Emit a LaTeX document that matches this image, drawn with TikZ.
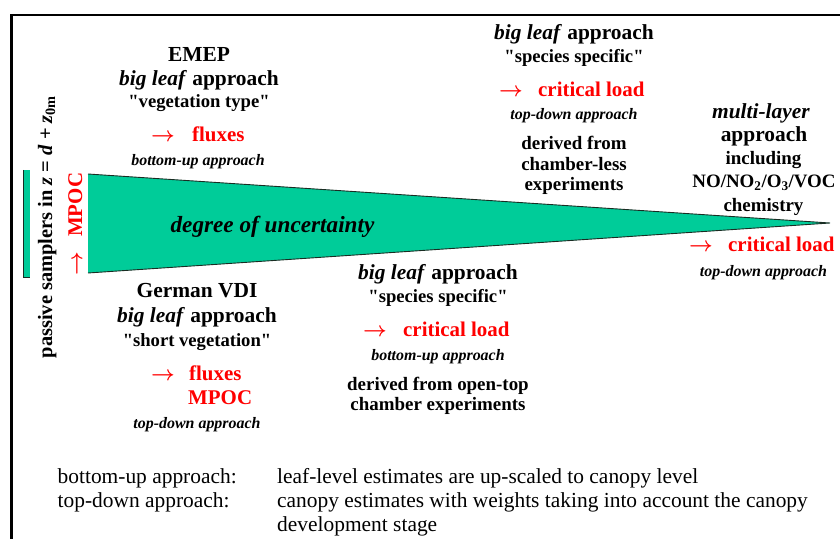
\documentclass[tikz,border=0pt]{standalone}
\usepackage{fontspec}
\setmainfont{Liberation Serif}
\definecolor{wedgegreen}{RGB}{0,204,153}
\definecolor{wedgeedge}{RGB}{25,45,35}
\newcommand{\resarrow}{{\boldmath$\rightarrow$}}

\begin{document}
\begin{tikzpicture}[x=1bp,y=-1bp,
  every node/.style={inner sep=0pt, anchor=base},
  hdtext/.style={font=\fontsize{21.5}{24}\selectfont\bfseries},
  qtext/.style={font=\fontsize{18.7}{21}\selectfont\bfseries},
  notetext/.style={font=\fontsize{16}{18}\selectfont\bfseries\itshape},
  redtext/.style={text=red, font=\fontsize{21}{24}\selectfont\bfseries, anchor=base west},
  redarrow/.style={text=red, font=\fontsize{21}{24}\selectfont},
  dettext/.style={font=\fontsize{19}{22}\selectfont\bfseries},
  legtext/.style={font=\fontsize{21.5}{24}\selectfont, anchor=base west},
]
\useasboundingbox (0,0) rectangle (840,539);

% outer frame (top and left edges)
\coordinate (frameBL) at (11.5,539);
\coordinate (frameTL) at (11.5,15);
\coordinate (frameTR) at (840,15);
\draw[line width=2.5bp] (frameBL) -- (frameTL) -- (frameTR);

% uncertainty wedge
\coordinate (wedgeTL) at (88,174);
\coordinate (wedgeTip) at (830,223);
\coordinate (wedgeBL) at (88,273);
\fill[wedgegreen] (wedgeTL) -- (wedgeTip) -- (wedgeBL) -- cycle;
\draw[wedgeedge, line width=0.9bp] (wedgeTL) -- (wedgeTip) -- (wedgeBL);
\node[font=\fontsize{23.3}{26}\selectfont\bfseries\itshape] (uncert) at (272.5,233) {degree of uncertainty};

% passive sampler bar
\coordinate (barTL) at (23.5,170);
\coordinate (barBR) at (30,277);
\fill[wedgegreen] (barTL) rectangle (barBR);
\draw[wedgeedge, line width=0.9bp] (barTL) -- (barTL |- barBR) -- (barBR);

% rotated labels at the left
\node[rotate=90, font=\fontsize{20.5}{24}\selectfont\bfseries] (samplers) at (52,227)
  {passive samplers in \textit{z} = \textit{d} + \textit{z}\textsubscript{0m}};
\node[rotate=90, text=red, font=\fontsize{21}{24}\selectfont\bfseries] (mpocv) at (82,224)
  {\resarrow\hspace{0.7em}MPOC};

% EMEP
\node[hdtext] (emep1) at (199,62) {EMEP};
\node[hdtext] (emep2) at (199,86) {\textit{big leaf} approach};
\node[qtext] (emep3) at (199,108) {\textquotedbl vegetation type\textquotedbl};
\node[redarrow] (emepArr) at (163,142) {\resarrow};
\node[redtext] (emepRes) at (192,142) {fluxes};
\node[notetext] (emep4) at (198,166) {bottom-up approach};

% German VDI
\node[hdtext] (vdi1) at (197,298) {German VDI};
\node[hdtext] (vdi2) at (197,323) {\textit{big leaf} approach};
\node[qtext] (vdi3) at (197,346) {\textquotedbl short vegetation\textquotedbl};
\node[redarrow] (vdiArr) at (163,380) {\resarrow};
\node[redtext] (vdiRes1) at (189,380) {fluxes};
\node[redtext] (vdiRes2) at (188,404) {MPOC};
\node[notetext] (vdi4) at (197,428) {top-down approach};

% species specific, open-top chambers
\node[hdtext] (otc1) at (438,280) {\textit{big leaf} approach};
\node[qtext] (otc2) at (438,303) {\textquotedbl species specific\textquotedbl};
\node[redarrow] (otcArr) at (375,336) {\resarrow};
\node[redtext] (otcRes) at (403,336) {critical load};
\node[notetext] (otc3) at (438,360) {bottom-up approach};
\node[dettext] (otc4) at (438,390) {derived from open-top};
\node[dettext] (otc5) at (438,410) {chamber experiments};

% species specific, chamber-less
\node[hdtext] (cl1) at (574,40) {\textit{big leaf} approach};
\node[qtext] (cl2) at (574,63) {\textquotedbl species specific\textquotedbl};
\node[redarrow] (clArr) at (511,97) {\resarrow};
\node[redtext] (clRes) at (538,97) {critical load};
\node[notetext] (cl3) at (574,120) {top-down approach};
\node[dettext] (cl4) at (574,150) {derived from};
\node[dettext] (cl5) at (574,171) {chamber-less};
\node[dettext] (cl6) at (574,191) {experiments};

% multi-layer
\node[hdtext] (ml1) at (761,119) {\textit{multi-layer}};
\node[hdtext] (ml2) at (764,142) {approach};
\node[dettext] (ml3) at (763.5,165) {including};
\node[dettext] (ml4) at (764,188) {NO/NO\textsubscript{2}/O\textsubscript{3}/VOC};
\node[dettext] (ml5) at (763.5,212) {chemistry};
\node[redarrow] (mlArr) at (701,252) {\resarrow};
\node[redtext] (mlRes) at (728,252) {critical load};
\node[notetext] (ml6) at (763.5,277) {top-down approach};

% legend
\node[legtext] (legBU) at (57.5,483) {bottom-up approach:};
\node[legtext] (legTD) at (57.5,507) {top-down approach:};
\node[legtext] (legBUtext) at (277,483) {leaf-level estimates are up-scaled to canopy level};
\node[legtext] (legTDtext1) at (277,507) {canopy estimates with weights taking into account the canopy};
\node[legtext] (legTDtext2) at (277,531) {development stage};
\end{tikzpicture}
\end{document}
